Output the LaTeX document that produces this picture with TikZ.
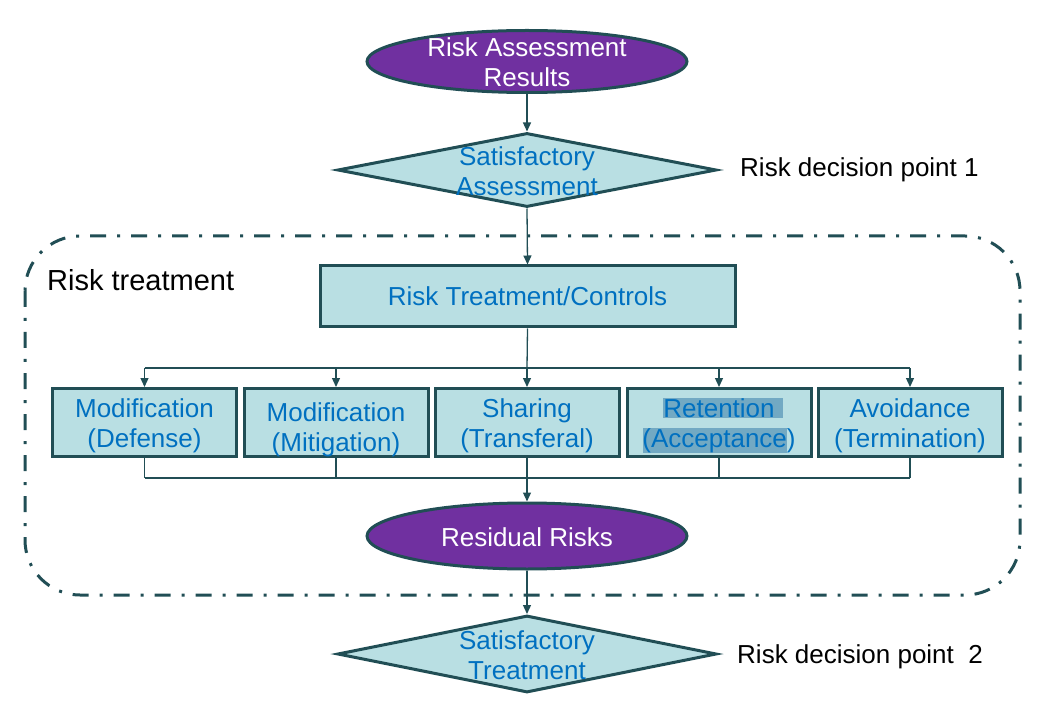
\documentclass[tikz,border=0pt]{standalone}
\usepackage{fontspec}
\setmainfont{Liberation Sans}
\usetikzlibrary{shapes.geometric,arrows.meta}
\definecolor{edge}{HTML}{214E55}
\definecolor{purp}{HTML}{7030A0}
\definecolor{teal}{HTML}{B9DFE3}
\definecolor{tblue}{HTML}{0070C0}
\definecolor{hilite}{HTML}{72A9C3}
\tikzset{
  txt/.style={font=\fontsize{26}{30}\selectfont, align=center, inner sep=0pt},
  oval/.style={ellipse, draw=edge, line width=3pt, fill=purp, text=white, minimum width=320pt, minimum height=62pt, inner sep=0pt, txt},
  dia/.style={diamond, draw=edge, line width=3pt, fill=teal, minimum width=379pt, minimum height=74pt, inner sep=0pt},
  bluetext/.style={txt, text=tblue},
  box/.style={rectangle, draw=edge, line width=3pt, fill=teal, minimum width=184pt, minimum height=68pt, inner sep=0pt, txt, text=tblue},
  conn/.style={draw=edge, line width=1.3pt},
  arr/.style={conn, -{Triangle[length=9pt,width=8pt]}},
  frame/.style={draw=edge, line width=3pt, rounded corners=55pt, dash pattern=on 16pt off 11pt on 3pt off 11pt},
}
\begin{document}
\begin{tikzpicture}[x=1pt,y=-1pt]
\useasboundingbox (0,0) rectangle (1041,708);
% frame
\draw[frame] (25,236) rectangle (1020,595);
\node[txt, anchor=west, font=\fontsize{29}{33}\selectfont] (rtlabel) at (47,280) {Risk treatment};
% top
\node[oval] (rar) at (527,61.5) {};
\node[txt, text=white] (rart) at (527,62.5) {Risk Assessment\\Results};
\node[dia] (d1) at (527,170) {};
\node[bluetext] (d1t) at (527,171) {Satisfactory\\Assessment};
\node[txt, anchor=west] (rdp1) at (740,170) {Risk decision point 1};
\node[box, minimum width=415pt, minimum height=61pt] (rtc) at (527.5,296.5) {Risk Treatment/Controls};
% options
\node[box] (b1) at (144.5,422.5) {};
\node[bluetext] (b1t) at (144.5,425.5) {Modification\\(Defense)};
\node[box] (b2) at (336,422.5) {};
\node[bluetext] (b2t) at (336,429.5) {Modification\\(Mitigation)};
\node[box] (b3) at (527,422.5) {};
\node[bluetext] (b3t) at (527,425.5) {Sharing\\(Transferal)};
\node[box] (b4) at (719,422.5) {};
\fill[hilite] (663,398) rectangle (783,418);
\fill[hilite] (643,428) rectangle (787,453);
\node[bluetext] (b4t) at (719,425.5) {Retention\\(Acceptance)};
\node[box] (b5) at (910,422.5) {};
\node[bluetext] (b5t) at (910,425.5) {Avoidance\\(Termination)};
% residual
\node[oval, minimum height=66pt] (rr) at (527,536) {};
\node[txt, text=white] (rrt) at (527,537) {Residual Risks};
\node[dia, minimum height=77pt] (d2) at (527,654) {};
\node[bluetext] (d2t) at (527,655) {Satisfactory\\Treatment};
\node[txt, anchor=west] (rdp2) at (737,657) {Risk decision point\ \ 2};
% connectors
\coordinate (bt) at (527,368);
\coordinate (bb) at (527,478);
\draw[arr] (rar.south) -- (d1.north);
\draw[arr] (d1.south) -- (rtc.north);
\draw[conn] (rtc.south) -- (bt);
\draw[conn] (b1.north |- bt) -- (b5.north |- bt);
\foreach \b in {b1,b2,b3,b4,b5} {
  \draw[arr] (\b.north |- bt) -- (\b.north);
  \draw[conn] (\b.south) -- (\b.south |- bb);
}
\draw[conn] (b1.south |- bb) -- (b5.south |- bb);
\draw[arr] (bb) -- (rr.north);
\draw[arr] (rr.south) -- (d2.north);
\end{tikzpicture}
\end{document}
